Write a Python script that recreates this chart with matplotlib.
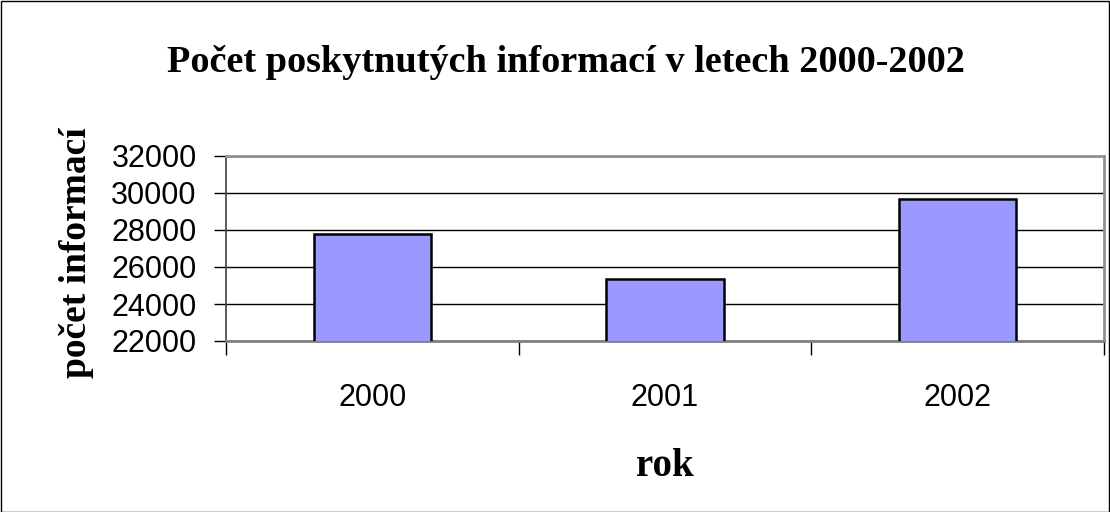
import matplotlib
matplotlib.use("Agg")
import matplotlib.pyplot as plt
from matplotlib.patches import Rectangle
import numpy as np

years = ["2000", "2001", "2002"]
values = [27770, 25340, 29690]
yticks = [22000, 24000, 26000, 28000, 30000, 32000]

W, H = 1110, 512
fig = plt.figure(figsize=(W / 100, H / 100), dpi=100)
fig.patch.set_facecolor("white")
fig.patches.append(Rectangle((0.5 / W, 0.5 / H), 1 - 1.5 / W, 1 - 1.5 / H,
                             transform=fig.transFigure, fill=False,
                             edgecolor="black", linewidth=1.0))

left, right, top, bottom = 226, 1104, 156, 341
ax = fig.add_axes([left / W, 1 - bottom / H, (right - left) / W, (bottom - top) / H])

x = np.arange(len(years))
ax.bar(x, values, width=0.4, color="#9999FF", edgecolor="black", linewidth=1.8,
       zorder=3)
ax.set_xlim(-0.5, len(years) - 0.5)
ax.set_ylim(yticks[0], yticks[-1])
ax.set_yticks(yticks)
ax.set_yticklabels([str(v) for v in yticks], fontsize=22, family="Liberation Sans")
ax.set_xticks(x)
ax.set_xticklabels(years, fontsize=22, family="Liberation Sans")
ax.tick_params(axis="x", which="major", length=0, pad=30)
ax.set_xticks(list(np.arange(-0.5, len(years), 1.0)), minor=True)
ax.tick_params(axis="x", which="minor", length=10, width=1, color="black", direction="out")
ax.tick_params(axis="y", length=9, width=1, color="black", direction="out", pad=12)

ax.yaxis.grid(True, color="black", linewidth=1.0, zorder=0)
ax.set_axisbelow(True)
ax.spines["left"].set_color("#404040")
ax.spines["left"].set_linewidth(1.2)
ax.spines["bottom"].set_color("#808080")
ax.spines["bottom"].set_linewidth(2.0)
ax.spines["top"].set_color("#909090")
ax.spines["top"].set_linewidth(2.0)
ax.spines["right"].set_color("#909090")
ax.spines["right"].set_linewidth(2.0)

fig.text(566 / W, 1 - 63 / H, "Počet poskytnutých informací v letech 2000-2002",
         ha="center", va="center", fontsize=27.5, fontweight="bold",
         family="Liberation Serif")
fig.text(77 / W, 1 - 253 / H, "počet informací", rotation=90,
         ha="center", va="center", fontsize=27, fontweight="bold",
         family="Liberation Serif")
fig.text(665 / W, 1 - 466 / H, "rok", ha="center", va="center",
         fontsize=28, fontweight="bold", family="Liberation Serif")

fig.savefig("out.png", dpi=100, facecolor="white")
